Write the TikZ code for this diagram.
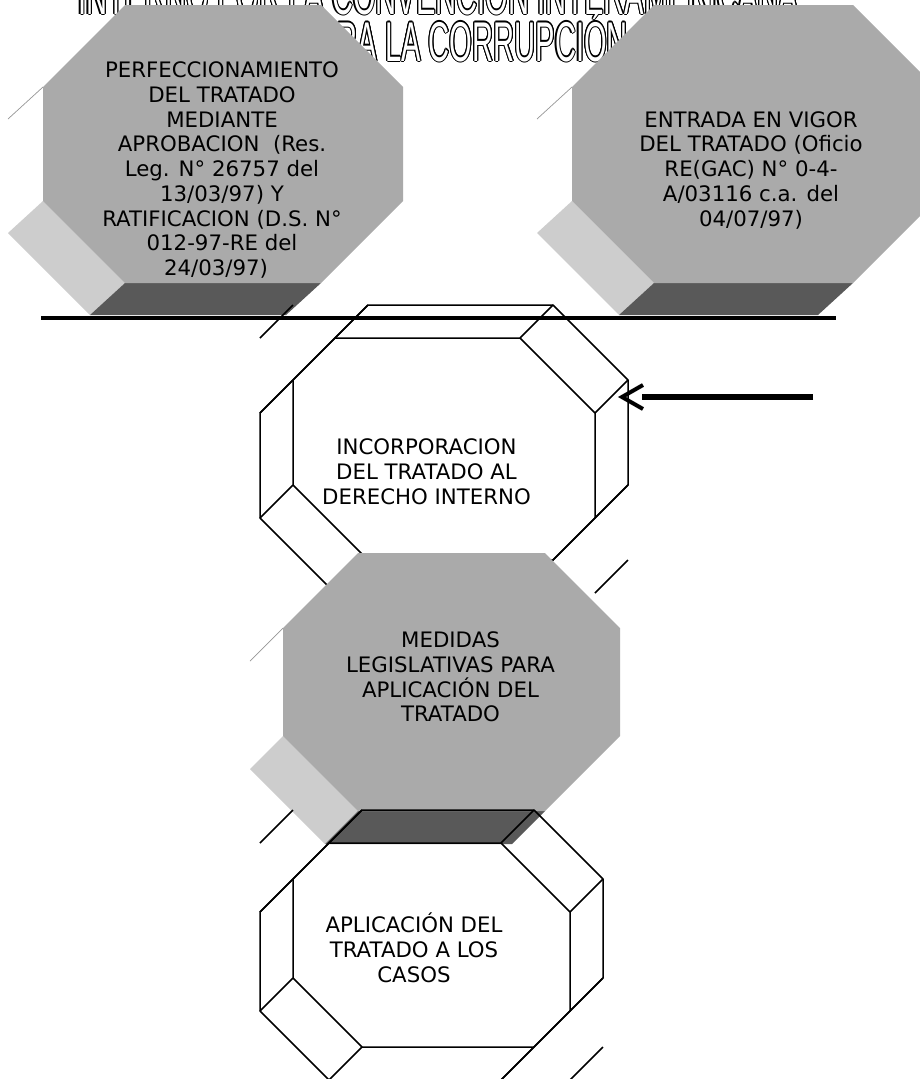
\documentclass[tikz,border=0pt]{standalone}
\usepackage{fontspec}
\setmainfont{DejaVu Sans}
\newfontfamily\titlefont{Liberation Sans}
\usepackage{graphicx}
\usetikzlibrary{calc}
\definecolor{facegray}{RGB}{170,170,170}
\definecolor{lightface}{RGB}{205,205,205}
\definecolor{darkface}{RGB}{89,89,89}
\definecolor{edgegray}{RGB}{150,150,150}

% gray 3D octagon: #1 left, #2 top, #3 right, #4 bottom, #5 cut, #6 shift left, #7 shift down
\newcommand\GrayOct[7]{%
 \fill[white] (#1,#2+#5) -- (#1,#4-#5) -- (#1-#6,#4-#5+#7) -- (#1-#6,#2+#5+#7) -- cycle;
 \draw[edgegray,line width=0.7pt] (#1,#2+#5) -- (#1-#6,#2+#5+#7);
 \fill[lightface] (#1,#4-#5) -- (#1+#5,#4) -- (#1+#5-#6,#4+#7) -- (#1-#6,#4-#5+#7) -- cycle;
 \fill[darkface] (#1+#5,#4) -- (#3-#5,#4) -- (#3-#5-#6,#4+#7) -- (#1+#5-#6,#4+#7) -- cycle;
 \fill[facegray] (#1+#5,#2) -- (#3-#5,#2) -- (#3,#2+#5) -- (#3,#4-#5) -- (#3-#5,#4)
   -- (#1+#5,#4) -- (#1,#4-#5) -- (#1,#2+#5) -- cycle;
}
% wireframe octagon: #1 left, #2 top, #3 right, #4 bottom, #5 cut, #6 depth
\newcommand\OctPath[5]{(#1+#5,#2) -- (#3-#5,#2) -- (#3,#2+#5) -- (#3,#4-#5) -- (#3-#5,#4)
   -- (#1+#5,#4) -- (#1,#4-#5) -- (#1,#2+#5) -- cycle}
\newcommand\WireOct[6]{%
 \draw[wire] \OctPath{#1}{#2}{#3}{#4}{#5};
 \draw[wire] \OctPath{#1-#6}{#2+#6}{#3-#6}{#4+#6}{#5};
 \foreach \px/\py in {#1+#5/#2, #3-#5/#2, #3/#2+#5, #3/#4-#5, #3-#5/#4, #1+#5/#4, #1/#4-#5, #1/#2+#5, #1/#2, #3/#4}
   {\draw[wire] (\px,\py) -- ++(-#6,#6);}
}
\newcommand\TitleA{\scalebox{0.52}[1]{\fontsize{56}{56}\titlefont INTERNO POR LA CONVENCION INTERAMERICANA}}
\newcommand\TitleB{\scalebox{0.52}[1]{\fontsize{56}{56}\titlefont CONTRA LA CORRUPCIÓN}}

\begin{document}
\begin{tikzpicture}[x=1pt,y=-1pt,
  wire/.style={line width=1.5pt,line join=round},
  octtext/.style={align=center,inner sep=0pt,font=\fontsize{21.3}{24.75}\selectfont},
  titletxt/.style={inner sep=0pt,anchor=base}]
\useasboundingbox (0,0) rectangle (920,1079);
\clip (0,0) rectangle (920,1079);

% title (outlined letters)
\foreach \a in {0,30,...,330} {
  \node[titletxt,text=black] (tao\a) at ($(438,14)+(\a:1.1)$) {\TitleA};
  \node[titletxt,text=black] (tbo\a) at ($(441,61)+(\a:1.1)$) {\TitleB};
}
\node[titletxt,text=white] (titleA) at (438,14) {\TitleA};
\node[titletxt,text=white] (titleB) at (441,61) {\TitleB};

% top octagons
\GrayOct{43}{5}{403}{283}{82}{35}{32}
\GrayOct{572}{5}{935}{283}{82}{35}{32}
\node[octtext] (perf) at (222,170) {PERFECCIONAMIENTO\\DEL TRATADO\\MEDIANTE\\APROBACION~~(Res.\\Leg. N° 26757 del\\13/03/97) Y\\RATIFICACION (D.S. N°\\012-97-RE del\\24/03/97)\hspace*{12pt}};
\node[octtext] (vigor) at (751,170) {ENTRADA EN VIGOR\\DEL TRATADO (Oficio\\RE(GAC) N° 0-4-\\A/03116 c.a. del\\04/07/97)};

% horizontal rule
\coordinate (hlA) at (41,318);
\coordinate (hlB) at (836,318);
\draw[line width=3.5pt] (hlA) -- (hlB);

% middle wire octagon
\WireOct{293}{305}{628}{560}{75}{33}
\node[octtext] (incorp) at (426.5,471.5) {INCORPORACION\\DEL TRATADO AL\\DERECHO INTERNO};

% medidas gray octagon
\GrayOct{283}{553}{620}{811}{75}{33}{33}
\node[octtext] (medidas) at (450.5,677) {MEDIDAS\\LEGISLATIVAS PARA\\APLICACIÓN DEL\\TRATADO};

% bottom wire octagon
\WireOct{293}{810}{603}{1047}{69}{33}
\node[octtext] (aplic) at (414,948) {APLICACIÓN DEL\\TRATADO A LOS\\CASOS};

% arrow
\coordinate (arrS) at (813,397);
\coordinate (arrE) at (642,397);
\coordinate (arrTip) at (622,397);
\draw[line width=6pt] (arrS) -- (arrE);
\draw[line width=4pt,line join=miter] (arrTip) ++(21,-12) -- (arrTip) -- ++(21,12);
\end{tikzpicture}
\end{document}
